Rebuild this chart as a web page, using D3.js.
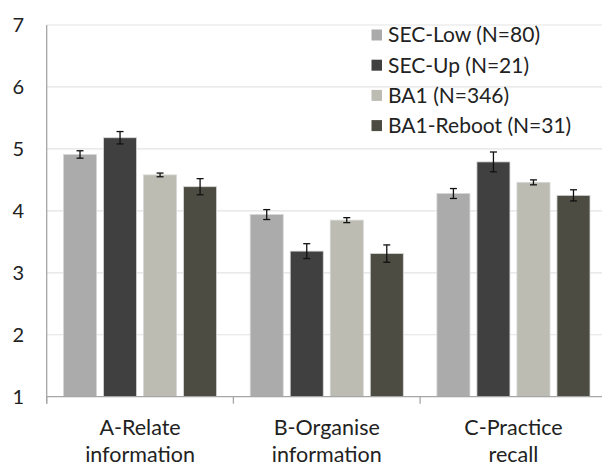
<!DOCTYPE html>
<html><head><meta charset="utf-8">
<script src="https://cdn.jsdelivr.net/npm/d3@7"></script>
<style>
html,body{margin:0;padding:0;background:#fff;}
svg{display:block;font-family:Lato,"Open Sans",sans-serif;}
</style></head>
<body>
<svg id="chart" width="602" height="466"></svg>
<script>
const categories = [["A-Relate","information"],["B-Organise","information"],["C-Practice","recall"]];
const seriesNames = ["SEC-Low (N=80)","SEC-Up (N=21)","BA1 (N=346)","BA1-Reboot (N=31)"];
const seriesColors = ["#ababab","#404040","#bcbcb2","#4c4c42"];
const secLow    = [4.91, 3.94, 4.28];
const secLowErr = [0.06, 0.08, 0.08];
const secUp     = [5.18, 3.35, 4.79];
const secUpErr  = [0.10, 0.12, 0.16];
const ba1       = [4.58, 3.85, 4.46];
const ba1Err    = [0.03, 0.04, 0.04];
const ba1Reboot = [4.39, 3.31, 4.25];
const ba1RebootErr = [0.13, 0.14, 0.09];
const yTicks = [1,2,3,4,5,6,7];

const values = [secLow, secUp, ba1, ba1Reboot];
const errors = [secLowErr, secUpErr, ba1Err, ba1RebootErr];

const svg = d3.select("#chart");
const mLeft = 46.7, mTop = 25, mBottom = 396.7, catW = 186.7;

const x0 = d3.scaleBand().domain(d3.range(categories.length))
  .range([mLeft, mLeft + catW * categories.length]).padding(0);
const x1 = d3.scaleBand().domain(d3.range(seriesNames.length))
  .range([0, x0.bandwidth()]).paddingInner(0.175).paddingOuter(0.42);
const y = d3.scaleLinear().domain([1,7]).range([mBottom, mTop]);

// gridlines
svg.append("g").selectAll("line").data(yTicks.filter(d => d > 1)).join("line")
  .attr("x1", mLeft).attr("x2", 602)
  .attr("y1", d => y(d)).attr("y2", d => y(d))
  .attr("stroke", "#e3e3e3").attr("stroke-width", 1.2);

// y labels
svg.append("g").selectAll("text").data(yTicks).join("text")
  .attr("x", 24).attr("y", d => y(d) + 7)
  .attr("text-anchor", "end").attr("font-size", 20).attr("fill", "#222")
  .text(d => d);

// bars
const groups = svg.append("g").selectAll("g").data(categories).join("g")
  .attr("transform", (d,i) => `translate(${x0(i)},0)`);

groups.each(function(c, ci) {
  const g = d3.select(this);
  values.forEach((vals, si) => {
    g.append("rect")
      .attr("x", x1(si)).attr("width", x1.bandwidth())
      .attr("y", y(vals[ci])).attr("height", y(1) - y(vals[ci]))
      .attr("fill", seriesColors[si])
      .attr("stroke", "#d6d6d6").attr("stroke-width", 0.8);
  });
  values.forEach((vals, si) => {
    const cx = x1(si) + x1.bandwidth()/2;
    const hi = y(vals[ci] + errors[si][ci]), lo = y(vals[ci] - errors[si][ci]);
    const eg = g.append("g").attr("stroke", "#111").attr("stroke-width", 1.3);
    eg.append("line").attr("x1", cx).attr("x2", cx).attr("y1", hi).attr("y2", lo);
    eg.append("line").attr("x1", cx-3.5).attr("x2", cx+3.5).attr("y1", hi).attr("y2", hi);
    eg.append("line").attr("x1", cx-3.5).attr("x2", cx+3.5).attr("y1", lo).attr("y2", lo);
  });
});

// axes lines
svg.append("line").attr("x1", mLeft).attr("x2", mLeft).attr("y1", mTop).attr("y2", mBottom + 7)
  .attr("stroke", "#a6a6a6").attr("stroke-width", 1.3);
svg.append("line").attr("x1", mLeft).attr("x2", 602).attr("y1", mBottom).attr("y2", mBottom)
  .attr("stroke", "#a6a6a6").attr("stroke-width", 1.3);
svg.append("g").selectAll("line").data(d3.range(categories.length + 1)).join("line")
  .attr("x1", i => mLeft + catW * i).attr("x2", i => mLeft + catW * i)
  .attr("y1", mBottom).attr("y2", mBottom + 7)
  .attr("stroke", "#a6a6a6").attr("stroke-width", 1.3);

// x labels
const xl = svg.append("g").selectAll("text").data(categories).join("text")
  .attr("text-anchor", "middle").attr("font-size", 21.5).attr("fill", "#222")
  .attr("transform", (d,i) => `translate(${x0(i) + x0.bandwidth()/2},0)`);
xl.append("tspan").attr("x", 0).attr("y", 435).text(d => d[0]);
xl.append("tspan").attr("x", 0).attr("y", 462).text(d => d[1]);

// legend
const lg = svg.append("g").selectAll("g").data(seriesNames).join("g")
  .attr("transform", (d,i) => `translate(371.5,${29.5 + i*30.2})`);
lg.append("rect").attr("width", 10.5).attr("height", 11).attr("fill", (d,i) => seriesColors[i]);
lg.append("text").attr("x", 16.5).attr("y", 12.8).attr("font-size", 21).attr("fill", "#222").text(d => d);
</script>
</body></html>
